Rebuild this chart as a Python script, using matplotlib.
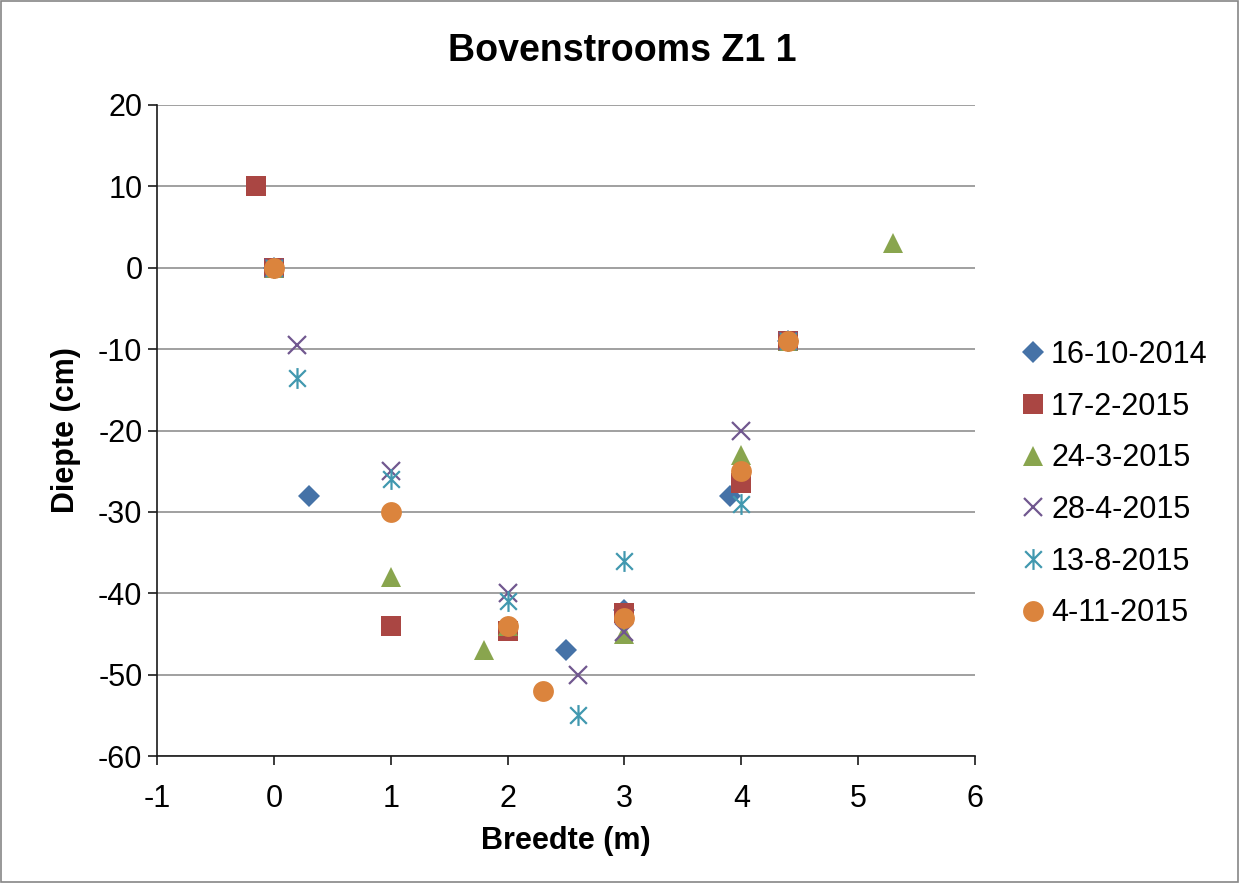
import matplotlib
matplotlib.use("Agg")
import matplotlib.pyplot as plt
from matplotlib.path import Path
from matplotlib.patches import Rectangle

plt.rcParams['font.family'] = ['Liberation Sans', 'DejaVu Sans']
plt.rcParams['axes.unicode_minus'] = False

# Measurement dates (series)
labels = ["16-10-2014", "17-2-2015", "24-3-2015", "28-4-2015", "13-8-2015", "4-11-2015"]

# Breedte (m) and Diepte (cm) per date
x_16_10_2014 = [0, 0.3, 2.5, 3, 3.9, 4.4]
y_16_10_2014 = [0, -28, -47, -42, -28, -9]

x_17_2_2015 = [-0.15, 0, 1, 2, 3, 4, 4.4]
y_17_2_2015 = [10, 0, -44, -44.7, -42.4, -26.4, -9]

x_24_3_2015 = [0, 1, 1.8, 2, 3, 4, 4.4, 5.3]
y_24_3_2015 = [0, -38, -47, -44, -45, -23, -9, 3]

x_28_4_2015 = [0, 0.2, 1, 2, 2.6, 3, 4, 4.4]
y_28_4_2015 = [0, -9.5, -25, -40, -50, -44.8, -20, -9]

x_13_8_2015 = [0, 0.2, 1, 2, 2.6, 3, 4, 4.4]
y_13_8_2015 = [0, -13.5, -26, -41, -55, -36, -29, -9]

x_4_11_2015 = [0, 1, 2, 2.3, 3, 4, 4.4]
y_4_11_2015 = [0, -30, -44, -52, -43, -25, -9]

xs = [x_16_10_2014, x_17_2_2015, x_24_3_2015, x_28_4_2015, x_13_8_2015, x_4_11_2015]
ys = [y_16_10_2014, y_17_2_2015, y_24_3_2015, y_28_4_2015, y_13_8_2015, y_4_11_2015]

colors = ["#4572A7", "#AA4643", "#89A54E", "#71588F", "#4198AF", "#DB843D"]

# Asterisk: vertical stroke plus a diagonal cross
star = Path([(0, -1), (0, 1), (-0.8, -0.8), (0.8, 0.8), (-0.8, 0.8), (0.8, -0.8)],
            [Path.MOVETO, Path.LINETO, Path.MOVETO, Path.LINETO, Path.MOVETO, Path.LINETO])

styles = [
    dict(marker="D", markersize=11, markeredgewidth=0),
    dict(marker="s", markersize=14, markeredgewidth=0),
    dict(marker="^", markersize=15, markeredgewidth=0),
    dict(marker="x", markersize=13, markeredgewidth=1.6),
    dict(marker=star, markersize=15, markeredgewidth=1.6, markerfacecolor="none"),
    dict(marker="o", markersize=15, markeredgewidth=0),
]

fig = plt.figure(figsize=(12.39, 8.83), dpi=100)
ax = fig.add_axes([157 / 1239, 127 / 883, 818 / 1239, 651 / 883])

for x, y, c, lab, st in zip(xs, ys, colors, labels, styles):
    kw = dict(st)
    kw.setdefault("markerfacecolor", c)
    ax.plot(x, y, linestyle="none", color=c, markeredgecolor=c, label=lab, **kw)

ax.set_xlim(-1, 6)
ax.set_ylim(-60, 20)
ax.set_xticks(range(-1, 7))
ax.set_yticks(range(-60, 21, 10))
ax.yaxis.grid(True, color="#989898", linewidth=1.3)
ax.set_axisbelow(True)

for side in ("top", "right"):
    ax.spines[side].set_visible(False)
for side in ("left", "bottom"):
    ax.spines[side].set_color("#1a1a1a")
    ax.spines[side].set_linewidth(1.2)
ax.tick_params(axis="both", which="major", labelsize=22, direction="out",
               length=6.5, width=1.2, color="#1a1a1a", pad=4)
ax.tick_params(axis="x", pad=14)

ax.set_xlabel("Breedte (m)", fontsize=22, fontweight="bold", labelpad=8)
ax.set_ylabel("Diepte (cm)", fontsize=22, fontweight="bold", labelpad=12)
fig.text(0.502, 0.9425, "Bovenstrooms Z1 1", fontsize=27, fontweight="bold",
         ha="center", va="center")

leg = fig.legend(loc="center left", bbox_to_anchor=(1022 / 1239, 0.4517), frameon=False,
                 fontsize=22, handlelength=0.7, handletextpad=0.25,
                 labelspacing=0.71, borderaxespad=0, borderpad=0)

fig.patches.append(Rectangle((0.001, 0.001), 0.998, 0.998, transform=fig.transFigure,
                             fill=False, edgecolor="#868686", linewidth=1.2))

fig.savefig("out.png", dpi=100)
